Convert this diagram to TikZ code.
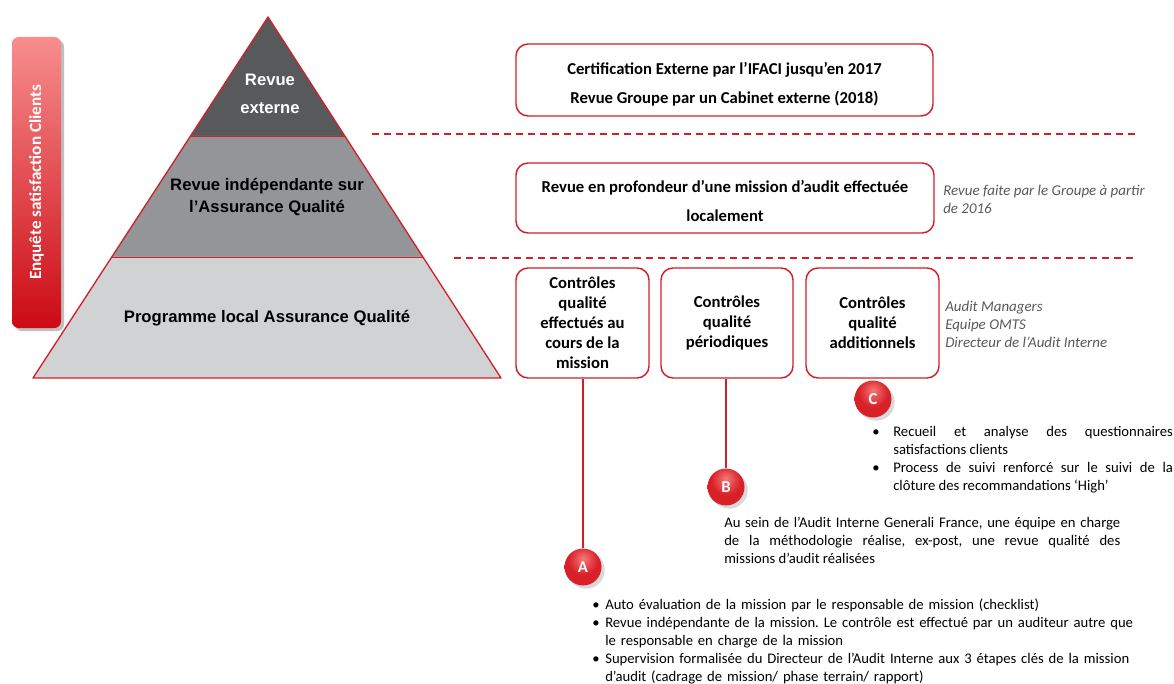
\documentclass[tikz,border=0pt]{standalone}
\usepackage{fontspec}
\setmainfont{Carlito}
\newfontfamily\pyrfont{Liberation Sans}
\usetikzlibrary{shadows}
\definecolor{qred}{RGB}{208,32,42}
\definecolor{qdark}{RGB}{88,89,91}
\definecolor{qmid}{RGB}{147,149,152}
\definecolor{qlight}{RGB}{209,210,212}
\definecolor{qnote}{RGB}{89,89,89}
\definecolor{barlight}{RGB}{247,142,142}
\definecolor{bardark}{RGB}{204,10,20}
\definecolor{qhigh}{RGB}{246,120,120}
\definecolor{qballred}{RGB}{216,32,40}
\definecolor{qdeep}{RGB}{175,12,22}
\pgfdeclareradialshading{qballshade}{\pgfpoint{0bp}{12bp}}{color(0bp)=(qhigh); color(20bp)=(qballred); color(42bp)=(qballred); color(56bp)=(qdeep); color(80bp)=(qdeep)}
\newcommand{\bitem}[2]{\par\noindent\hangindent=#1\hangafter=1\makebox[#1][l]{\hspace{1.5pt}\textbullet}#2}
\frenchspacing

\begin{document}
\begin{tikzpicture}[x=0.75pt, y=-0.75pt,
    qbox/.style={draw=qred, line width=1.1pt, fill=white, rounded corners=9pt,
        align=center, inner sep=0pt, font=\bfseries\fontsize{12.5}{15}\selectfont},
    pyrlabel/.style={align=center, font=\pyrfont\bfseries\fontsize{12.5}{16.5}\selectfont},
    sidenote/.style={anchor=west, align=left, text=qnote, inner sep=0pt,
        font=\itshape\fontsize{11.2}{13.5}\selectfont},
    bodytext/.style={anchor=north west, inner sep=0pt, font=\fontsize{11}{13.5}\selectfont},
    qball/.style={circle, minimum size=27.75pt, inner sep=0pt, shading=qballshade,
        text=white, font=\bfseries\fontsize{12.5}{12.5}\selectfont, drop shadow={opacity=0.3}},
    sep/.style={qred, line width=1pt, dash pattern=on 5.25pt off 3.75pt},
    link/.style={qred, line width=0.9pt}
]
\useasboundingbox (0,0) rectangle (1174,684);

\fill[black!25, rounded corners=5pt] (15,40) rectangle (64,331);
\shade[top color=barlight, bottom color=bardark, rounded corners=5pt] (12,37) rectangle (61,328);
\node[rotate=90, text=white, font=\bfseries\fontsize{12.8}{14}\selectfont] (enq) at (36.5,182.5) {Enquête satisfaction Clients};

\fill[qdark] (268,17) -- (344.8,136) -- (190.5,136) -- cycle;
\fill[qmid] (190.5,136) -- (344.8,136) -- (422.9,257) -- (111.8,257) -- cycle;
\fill[qlight] (111.8,257) -- (422.9,257) -- (501,378) -- (33,378) -- cycle;
\draw[qred, line width=0.6pt] (190.5,136) -- (344.8,136) (111.8,257) -- (422.9,257);
\draw[qred, line width=1pt, line join=round] (268,17) -- (501,378) -- (33,378) -- cycle;

\node[pyrlabel, text=white, font=\pyrfont\bfseries\fontsize{12.5}{21}\selectfont] (pext) at (270,94) {Revue\\externe};
\node[pyrlabel] (pind) at (267,197) {Revue indépendante sur\\l’Assurance Qualité};
\node[pyrlabel] (ploc) at (267,318) {Programme local Assurance Qualité};

\draw[sep] (372,134) -- (1136,134);
\draw[sep] (454,258) -- (1136,258);

\node[qbox, minimum width=312.75pt, minimum height=54pt, font=\bfseries\fontsize{12.5}{21.75}\selectfont] (qext) at (724.5,80) {\rule{0pt}{15pt}Certification Externe par l’IFACI jusqu’en 2017\\Revue Groupe par un Cabinet externe (2018)};
\node[qbox, minimum width=313.5pt, minimum height=52.5pt, font=\bfseries\fontsize{12.5}{21.75}\selectfont] (qind) at (725,198) {\rule{0pt}{14pt}Revue en profondeur d’une mission d’audit effectuée\\localement};
\node[sidenote] (nind) at (943,199) {Revue faite par le Groupe à partir\\de 2016};

\node[qbox, minimum width=99.75pt, minimum height=82.5pt] (qa) at (582.5,323) {Contrôles\\qualité\\effectués au\\cours de la\\mission};
\node[qbox, minimum width=99pt, minimum height=82.5pt] (qb) at (727,323) {Contrôles\\qualité\\périodiques};
\node[qbox, minimum width=99.75pt, minimum height=82.5pt] (qc) at (872.5,323) {Contrôles\\qualité\\additionnels};
\node[sidenote] (nadd) at (945,324) {Audit Managers\\Equipe OMTS\\Directeur de l’Audit Interne};

\node[qball] (ca) at (583,567) {A};
\node[qball] (cb) at (726,487) {B};
\node[qball] (cc) at (873,399) {C};
\draw[link] (qa.south -| ca) -- (ca);
\draw[link] (qb.south -| cb) -- (cb);

\node[bodytext, text width=227pt, align=justify] (tc) at (870,418) {%
\bitem{17.25pt}{Recueil et analyse des questionnaires\linebreak satisfactions clients}
\bitem{17.25pt}{Process de suivi renforcé sur le suivi de la\linebreak clôture des recommandations ‘High’}\par};
\node[bodytext, text width=297pt, align=justify] (tb) at (724,517) {%
Au sein de l’Audit Interne Generali France, une équipe en charge\linebreak de la méthodologie réalise, ex-post, une revue qualité des\linebreak missions d’audit réalisées\par};
\node[bodytext, text width=420pt, align=left] (ta) at (590,591) {%
\bitem{11.25pt}{Auto évaluation de la mission par le responsable de mission (checklist)}
\bitem{11.25pt}{Revue indépendante de la mission. Le contrôle est effectué par un auditeur autre que\newline le responsable en charge de la mission}
\bitem{11.25pt}{Supervision formalisée du Directeur de l’Audit Interne aux 3 étapes clés de la mission\newline d’audit (cadrage de mission/ phase terrain/ rapport)}\par};
\end{tikzpicture}
\end{document}
